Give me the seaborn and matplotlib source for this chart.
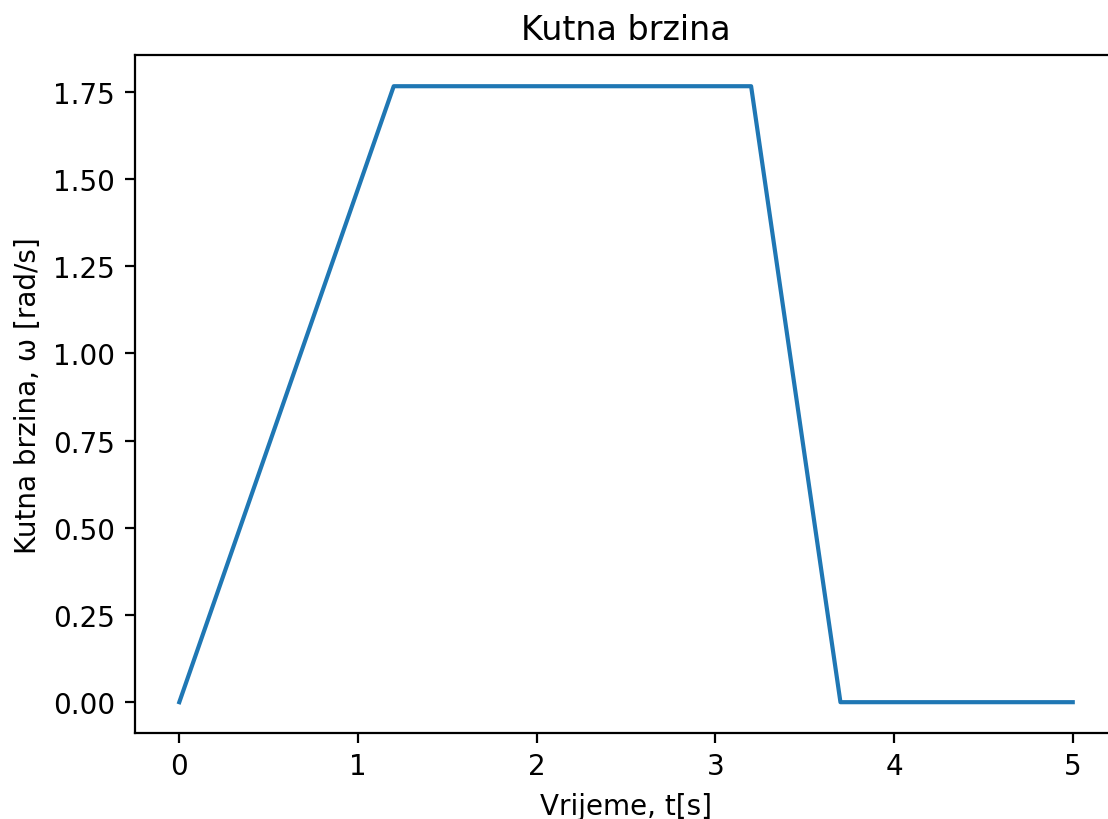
import matplotlib
matplotlib.use("Agg")
import matplotlib.pyplot as plt
import seaborn as sns
import pandas as pd

# angular velocity profile
time_s = [0.0, 1.2, 3.2, 3.7, 5.0]
omega = [0.0, 1.766, 1.766, 0.0, 0.0]

df = pd.DataFrame({"t": time_s, "omega": omega})

s = 2.0  # the reference is a ~2x upscaled default matplotlib figure
plt.rcParams.update({
    "font.family": ["DejaVu Sans"],
    "font.size": 10 * s,
    "axes.titlesize": 12 * s,
    "axes.linewidth": 0.8 * s,
    "xtick.major.size": 3.5 * s,
    "ytick.major.size": 3.5 * s,
    "xtick.major.width": 0.8 * s,
    "ytick.major.width": 0.8 * s,
    "xtick.major.pad": 3.5 * s,
    "ytick.major.pad": 3.5 * s,
    "axes.titlepad": 6 * s,
    "axes.labelpad": 4 * s,
})

fig = plt.figure(figsize=(11.08, 8.2), dpi=100)
ax = fig.add_axes([0.1215, 0.1049, 0.887, 0.8263])
sns.lineplot(data=df, x="t", y="omega", ax=ax, color="#1f77b4", linewidth=1.5 * s)

ax.set_yticks([0, 0.25, 0.5, 0.75, 1.0, 1.25, 1.5, 1.75])
ax.yaxis.set_major_formatter(matplotlib.ticker.FormatStrFormatter("%.2f"))
ax.set_title("Kutna brzina")
ax.set_xlabel("Vrijeme, t[s]")
ax.set_ylabel("Kutna brzina, ω [rad/s]")

fig.savefig("out.png", dpi=100)
